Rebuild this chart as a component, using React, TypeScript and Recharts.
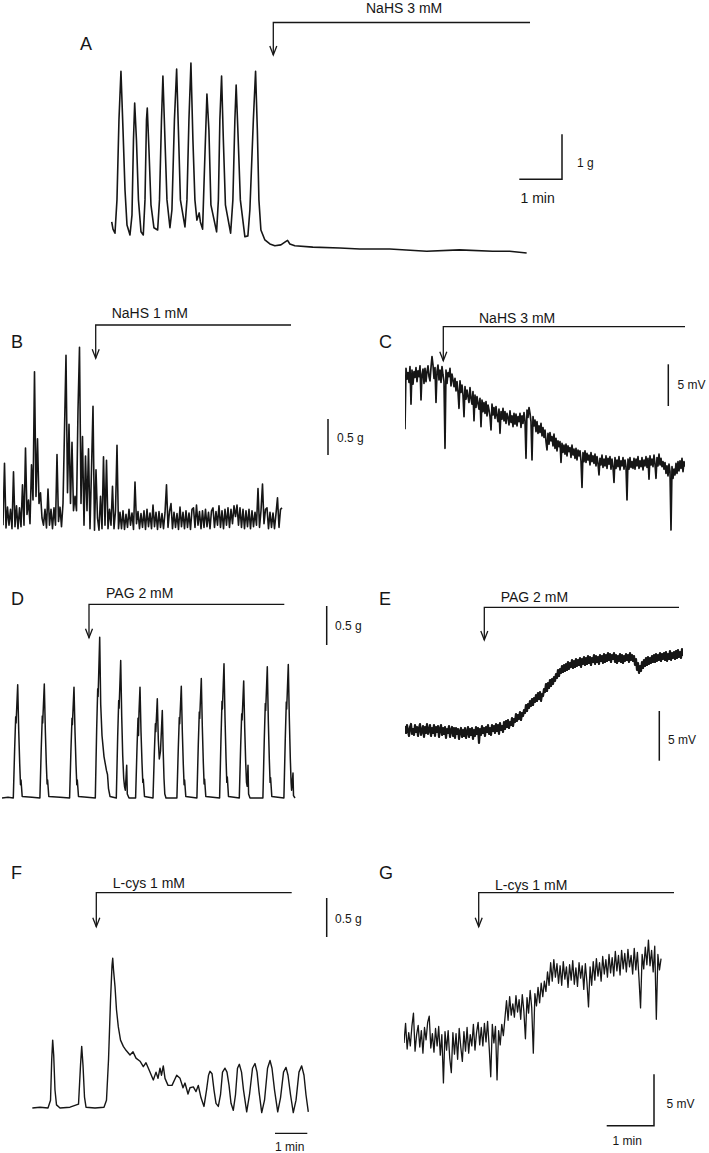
import React from "react"
import { LineChart, Line, XAxis, YAxis } from "recharts"

// A: spontaneous contractions, NaHS 3 mM — [seconds, g]
const panelA: [number, number][] = [
  [1, 0.69], [2.8, 0.53], [5.6, 0.44], [8.4, 1.18], [11.2, 2.96], [14, 4.04], [16.9, 2.73], [19.7, 1.4], [22.5, 0.62],
  [26.7, 0.4], [29.5, 0.84], [31.6, 2.51], [33.3, 3.33], [35.8, 2.51], [38.6, 1.18], [42.2, 0.47], [45.4, 0.4],
  [47.8, 1.18], [49.9, 2.96], [51, 3.22], [53.4, 2.29], [56.2, 1.07], [60.4, 0.56], [65.6, 0.51], [68.2, 1.18],
  [71, 2.96], [73, 3.93], [75.9, 2.51], [78.7, 1.18], [82.9, 0.56], [85.7, 0.96], [89.2, 2.96], [92.3, 4.09],
  [94.8, 2.73], [97.6, 1.18], [104, 0.58], [106.8, 1.18], [109.6, 2.96], [112.4, 4.22], [115.2, 2.51], [118, 1.18],
  [120.8, 0.73], [124, 0.89], [125.7, 0.69], [128.8, 0.53], [131.4, 1.84], [134.9, 3.53], [137.7, 2.73], [140.5, 1.07],
  [148.5, 0.47], [151, 1.18], [153.1, 2.96], [155.5, 3.93], [158, 2.51], [160.9, 1.07], [168.2, 0.44], [171.4, 1.18],
  [174.2, 2.96], [176, 3.73], [178.4, 2.73], [181.9, 1.18], [188.3, 0.36], [192.5, 0.38], [195.3, 0.96], [200.2, 2.96],
  [203.3, 4.04], [205.8, 2.73], [208, 1.18], [210.8, 0.51], [216.4, 0.29], [223.4, 0.2], [230.4, 0.16], [238.9, 0.18],
  [244.5, 0.24], [248.3, 0.28], [251.5, 0.2], [258.5, 0.16], [283.8, 0.13], [321.7, 0.11], [349.8, 0.09], [392, 0.09],
  [444, 0.04], [490, 0.07], [536.7, 0.04], [560.6, 0.04], [584.5, 0],
]

// B: NaHS 1 mM, tension (g), one sample every 1.5 s
const panelB: number[] = [
  -0.1, 0.76, -0.14, 0.15, -0.1, 0.12, -0.15, 0.64, -0.12, 0.17, -0.15, 0.14, -0.12, 0.46, -0.1, 0.97, 0.05, 0.25, -0.08,
  0.74, 0.25, 2.03, 0.3, 1.1, 0.2, 0.35,
  0.0, -0.1, 0.12, -0.14, 0.4, -0.1, 0.12, -0.15, 0.14, -0.1, 0.88, -0.05, 0.15, -0.12,
  0.2, 1.22, 2.26, 0.35, 1.3, 0.2, 1.05, 0.1, 0.3,
  0.1, 1.5, 2.37, 0.2, 1.13, -0.1, 0.86, 0.1, 0.96, -0.15, 0.67, 1.55, -0.17, 0.67, 0.0, -0.17, 0.3, -0.15,
  0.85, -0.1, 0.8, -0.15, 0.12, -0.1, 0.44, -0.15, 0.1, 1.01, -0.15,
  0.08, -0.15, 0.1, -0.16, 0.05, -0.13, 0.12, -0.1, 0.07, -0.16,
  0.5, -0.08, 0.09, -0.15, 0.06, -0.13, 0.1, -0.16, 0.12, -0.12,
  0.07, -0.15, 0.18, -0.12, 0.08, -0.16, 0.09, -0.13, 0.06, -0.15,
  0.07, 0.46, -0.13, 0.09, 0.2, -0.15, 0.08, -0.13, 0.06, -0.16,
  0.15, -0.12, 0.08, -0.15, 0.1, -0.13, 0.07, -0.16, 0.12, 0.14,
  -0.13, 0.18, -0.1, 0.09, -0.15, 0.1, -0.13, 0.12, -0.12, 0.08,
  -0.15, 0.1, 0.14, -0.13, 0.09, -0.1, 0.17, -0.13, 0.1, -0.15,
  0.12, -0.1, 0.14, -0.13, 0.12, -0.08, 0.17, 0.02, 0.18, -0.1,
  0.14, -0.13, 0.12, -0.15, 0.1, -0.12, 0.12, -0.15, 0.1, -0.12,
  0.08, -0.1, 0.41, -0.13, 0.1, 0.47, -0.08, 0.12, 0.14, -0.15,
  0.08, -0.13, 0.07, -0.15, 0.06, 0.28, -0.13, 0.12, 0.14,
]

// C: NaHS 3 mM, membrane potential (mV), one sample per second
const panelC: number[] = [
  -6.5, 0.8, -0.5, 0.3, -0.9, 1.0, -3.5, 0.6, -1.1, 0.4,
  -0.3, 0.9, -0.8, 0.5, -0.2, 1.1, -3.0, 0.1, 0.7, -1.0,
  0.8, -0.8, 0.4, 1.1, -0.2, -0.7, 0.9, 2.2, 1.2, -0.4,
  0.9, -3.3, 0.4, 1.2, -0.6, 0.6, -0.9, 1.0, 0.0, -0.8,
  -8.8, 0.6, -1.0, 0.3, -0.2, 0.8, -1.3, 0.1, -0.6, -1.4,
  -0.4, -1.9, -0.8, -2.0, -4.0, -0.7, -2.1, -1.2, -2.4, -5.0,
  -1.4, -2.9, -1.8, -2.6, -3.3, -1.5, -2.8, -3.5, -2.0, -5.5,
  -2.4, -3.9, -2.6, -3.4, -4.1, -2.8, -6.2, -3.0, -4.4, -3.3,
  -4.6, -3.2, -4.9, -3.6, -4.2, -5.0, -6.6, -3.5, -4.8, -3.9,
  -5.2, -3.8, -4.9, -5.6, -4.1, -7.0, -4.4, -5.3, -4.0, -5.5,
  -4.4, -5.8, -4.6, -5.1, -6.0, -4.3, -5.7, -4.9, -6.2, -4.6,
  -5.9, -4.7, -6.1, -5.0, -5.6, -4.6, -6.3, -4.9, -5.8, -4.5,
  -5.5, -10.0, -4.2, -5.1, -3.9, -4.6, -5.6, -10.2, -5.0, -6.1,
  -5.4, -6.8, -5.6, -7.0, -6.1, -6.9, -5.8, -7.3, -6.3, -7.5,
  -6.6, -8.0, -9.0, -7.0, -8.3, -6.9, -7.9, -7.4, -8.5, -7.1,
  -8.8, -7.6, -9.1, -7.9, -8.6, -8.0, -10.5, -8.2, -9.3, -8.4,
  -9.5, -8.3, -9.7, -8.5, -9.2, -8.7, -9.9, -8.4, -9.6, -8.9,
  -10.0, -8.8, -10.2, -9.0, -9.7, -9.1, -10.3, -13.5, -9.3, -10.4,
  -9.1, -10.5, -9.4, -10.2, -9.6, -10.8, -9.3, -10.4, -9.7, -10.6,
  -9.5, -10.9, -9.8, -10.6, -12.0, -10.0, -10.8, -9.6, -11.1, -10.1,
  -10.9, -9.7, -11.2, -10.0, -10.7, -9.8, -11.3, -10.1, -11.0, -12.9,
  -9.9, -11.2, -10.2, -11.0, -9.8, -11.4, -10.3, -10.9, -9.9, -11.3,
  -10.2, -11.0, -15.0, -10.1, -11.3, -9.9, -11.1, -10.4, -11.2, -10.0,
  -11.3, -10.1, -10.9, -9.8, -11.2, -10.3, -11.0, -9.9, -11.4, -10.2,
  -10.9, -9.8, -11.1, -10.0, -12.5, -9.7, -10.8, -10.1, -11.0, -9.6,
  -10.7, -12.4, -9.9, -10.9, -9.5, -10.8, -10.0, -11.0, -10.4, -11.3,
  -10.5, -11.8, -10.9, -12.1, -10.7, -11.6, -18.6, -11.0, -12.4, -11.3,
  -12.0, -10.6, -11.8, -10.4, -11.5, -10.3, -11.2, -10.0, -11.6, -10.4, -11.0,
]

// D: PAG 2 mM, tension — [seconds, g]
const panelD: [number, number][] = [
  [0, 0], [6, 0.01], [11.3, 0], [12.7, 0.65], [13.7, 1.04], [14.1, 0.96], [15.7, 1.45], [16.7, 0.87], [17.7, 0.44], [18.5, 0.17], [19, 0.23], [20.2, 0.02], [30, 0.01],
  [37.9, 0], [39.3, 0.66], [40.3, 1.05], [40.7, 0.96], [42.3, 1.46], [43.3, 0.88], [44.3, 0.44], [45.1, 0.18], [45.6, 0.23], [46.8, 0.02], [58, 0.01],
  [67.6, 0], [69, 0.64], [70, 1.02], [70.4, 0.94], [72, 1.42], [73, 0.85], [74, 0.43], [74.8, 0.17], [75.3, 0.23], [76.5, 0.02], [85, 0.01],
  [93.3, 0], [94.7, 0.9], [95.7, 1.4], [96.1, 1.3], [97.7, 2.06], [98.7, 1.2], [100, 0.8], [102, 0.53], [104.5, 0.35], [105.5, 0.3], [106.5, 0.12], [108, 0.02],
  [114.3, 0], [115.7, 0.8], [116.7, 1.25], [117.1, 1.15], [118.7, 1.76], [119.7, 1.05], [120.7, 0.55], [121.7, 0.25], [122.5, 0.15], [123.3, 0.1], [124.7, 0.42], [125.3, 0.05], [127, 0],
  [133.6, 0], [135, 0.64], [136, 1.02], [136.5, 0.8], [137, 1.1], [138, 1.42], [139, 0.85], [140, 0.45], [140.8, 0.2], [141.3, 0.24], [142.5, 0.02],
  [151, 0], [152.4, 0.6], [153.4, 0.95], [153.8, 0.85], [155.3, 1.27], [156.3, 0.75], [157.3, 0.5], [158.5, 0.6], [160.3, 1.12], [161.2, 0.6], [162, 0.25], [162.8, 0.05], [164, 0],
  [174.9, 0], [176.3, 0.64], [177.3, 1.03], [177.7, 0.95], [179.3, 1.43], [180.3, 0.86], [181.3, 0.43], [182.1, 0.17], [182.6, 0.23], [183.8, 0.02],
  [194.9, 0], [196.3, 0.69], [197.3, 1.1], [197.7, 1.02], [199.3, 1.53], [200.3, 0.92], [201.3, 0.46], [202.1, 0.18], [202.6, 0.24], [203.8, 0.02],
  [217.6, 0], [219, 0.77], [220, 1.24], [220.4, 1.14], [222, 1.72], [223, 1.03], [224, 0.52], [224.8, 0.2], [225.3, 0.27], [226.5, 0.02],
  [237.3, 0], [238.7, 0.68], [239.7, 1.08], [240.1, 1.0], [241.7, 1.5], [242.7, 0.9], [243.7, 0.45], [244.5, 0.2], [245.2, 0.15], [246, 0.42], [246.6, 0.05], [248, 0],
  [260.9, 0], [262.3, 0.76], [263.3, 1.21], [263.7, 1.12], [265.3, 1.68], [266.3, 1.0], [267.3, 0.5], [268.1, 0.2], [268.6, 0.26], [269.8, 0.02],
  [281.9, 0], [283.3, 0.77], [284.3, 1.23], [284.7, 1.14], [286.3, 1.71], [287.3, 1.03], [288.3, 0.51], [289.1, 0.2], [289.6, 0.1], [291, 0.32], [291.5, 0.03], [293, 0],
]

// E: PAG 2 mM, membrane potential (mV), one sample per second
const panelE: number[] = [
  0.4, -0.3, 0.5, -0.1, -0.6, 0.3, 0.6, -0.4, 0.1, -0.5,
  0.5, -0.2, 0.3, -0.6, 0.2, 0.6, -0.5, -0.1, 0.4, -0.7,
  0.3, -0.3, 0.6, -0.4, 0.0, 0.5, -0.6, 0.2, -0.3, 0.5,
  -0.6, 0.3, -0.2, 0.4, -0.7, 0.1, 0.5, -0.5, 0.2, -0.4,
  0.3, -0.8, 0.1, -0.3, 0.4, -0.7, 0.0, 0.3, -0.6, 0.2,
  -0.8, 0.2, -0.4, 0.1, -0.9, -0.1, 0.2, -0.7, 0.0, -0.6,
  0.2, -0.8, -0.2, 0.3, -0.7, 0.1, -0.5, 0.2, -0.9, 0.0,
  -0.6, 0.3, -0.4, 0.2, -1.3, 0.1, -0.5, 0.4, -0.3, 0.2,
  -0.6, 0.3, -0.2, 0.5, -0.4, 0.2, -0.5, 0.5, -0.1, 0.4,
  -0.3, 0.6, -0.1, 0.5, -0.4, 0.7, 0.0, 0.4, -0.2, 0.8,
  0.1, 0.9, 0.3, 1.0, 0.2, 0.8, 0.5, 1.2, 0.4, 1.1,
  0.8, 1.6, 0.9, 1.5, 1.1, 1.8, 1.0, 1.7, 1.4, 2.0,
  1.7, 2.5, 1.9, 2.6, 2.2, 2.9, 2.4, 3.1, 2.5, 3.2,
  2.8, 3.5, 2.9, 3.7, 3.1, 3.8, 2.9, 3.6, 3.4, 4.1,
  3.8, 4.6, 3.9, 4.7, 4.2, 5.0, 4.4, 5.1, 4.6, 5.3,
  4.9, 5.6, 5.2, 6.0, 5.4, 6.1, 5.7, 6.4, 5.8, 6.5,
  5.9, 6.6, 6.0, 6.8, 6.1, 6.7, 6.3, 7.0, 6.2, 6.9,
  6.3, 7.1, 6.4, 7.0, 6.5, 7.2, 6.3, 7.1, 6.6, 7.3,
  6.5, 7.2, 6.6, 7.4, 6.7, 7.3, 6.5, 7.2, 6.8, 7.5,
  6.6, 7.4, 6.8, 7.3, 6.6, 7.5, 6.9, 7.4, 6.7, 7.6,
  6.8, 7.5, 6.9, 7.7, 7.0, 7.6, 6.8, 7.5, 7.1, 7.7,
  6.8, 7.5, 6.7, 7.4, 6.9, 7.6, 6.8, 7.5, 6.7, 7.4,
  6.9, 7.6, 7.0, 7.5, 6.8, 7.7, 7.0, 7.5, 6.9, 7.4,
  6.5, 7.1, 6.0, 6.7, 5.7, 6.4, 5.9, 6.8, 6.2, 7.0,
  6.4, 7.2, 6.5, 7.3, 6.6, 7.2, 6.7, 7.4, 6.8, 7.5,
  6.8, 7.6, 6.9, 7.5, 7.0, 7.7, 6.9, 7.6, 7.1, 7.7,
  7.0, 7.8, 6.9, 7.6, 7.1, 7.9, 7.0, 7.7, 7.2, 7.8,
  7.1, 7.9, 7.2, 8.0, 7.3, 7.8, 7.2, 8.1, 7.4,
]

// F: L-cys 1 mM, tension — [seconds, g]
const panelF: [number, number][] = [
  [0.6, 0], [14.9, 0.01], [29.7, 0], [34.4, 0.1], [36.6, 0.62], [38.4, 0.87], [40.3, 0.68], [42.7, 0.23], [45.5, 0.04],
  [52, 0], [70.6, 0.01], [86.4, 0.05], [90.1, 0.55], [92.3, 0.79], [94.7, 0.55], [97.5, 0.14], [100.3, 0.01], [117, 0],
  [133.7, 0.01], [138.3, 0.1], [142.1, 0.62], [145.8, 1.38], [148.6, 1.83], [149.9, 1.92], [151.4, 1.77], [154.1, 1.56],
  [156.9, 1.26], [160.3, 1.04], [164.4, 0.87], [169.6, 0.79], [174.6, 0.74], [182, 0.68], [187.6, 0.72], [193.1, 0.64],
  [200.6, 0.6], [206.7, 0.53], [211.7, 0.58], [217.3, 0.49], [225.3, 0.36], [230.3, 0.46], [234, 0.38], [237.7, 0.51],
  [240.5, 0.42], [243.8, 0.54], [247, 0.38], [252.6, 0.29], [260, 0.29], [268.7, 0.42], [274.9, 0.38], [280.4, 0.26],
  [284.1, 0.32], [289.7, 0.18], [293.4, 0.26], [299.6, 0.27], [304.6, 0.21], [308.8, 0.29], [313.9, 0.13], [319.4, 0.02],
  [324.1, 0.23], [327.8, 0.42], [330.5, 0.47], [334.3, 0.44], [338, 0.23], [341.7, 0.06], [346, 0.02], [350.1, 0.17],
  [353.8, 0.46], [358.4, 0.51], [362.1, 0.46], [365.9, 0.29], [369.6, 0.06], [373.8, -0.03], [377.9, 0.17], [381.6, 0.51],
  [385, 0.56], [389.1, 0.46], [392.8, 0.23], [398.7, -0.05], [403.9, 0.17], [409.5, 0.51], [414.1, 0.57], [417.9, 0.46],
  [421.6, 0.21], [426.6, -0.06], [431.8, 0.1], [437.4, 0.51], [442, 0.61], [445.7, 0.51], [450.4, 0.23], [456.3, -0.05],
  [461.5, 0.13], [467.1, 0.46], [471.7, 0.52], [475.4, 0.42], [480.1, 0.17], [485.2, -0.06], [490.3, 0.1], [495.8, 0.46],
  [500.8, 0.54], [505.1, 0.42], [508.8, 0.17], [513.1, -0.05],
]

// G: L-cys 1 mM, membrane potential (mV), one sample every 2 s
const panelG: number[] = [
  -0.6, 1.3, -1.2, 0.4, -0.9, 1.0, 2.3, -1.4, 0.2, 1.1,
  -1.0, 0.6, -1.6, 0.9, -0.3, 1.4, 2.0, -1.1, 0.3, -1.5,
  0.8, -0.9, 1.0, -1.8, 0.2, -4.5, 0.5, -1.3, 0.6, -2.1,
  -3.5, 0.4, -1.7, 0.3, -2.2, 0.8, -1.0, -2.4, 0.5, -1.4,
  0.9, -1.6, 0.2, -0.9, 1.2, -1.3, 0.4, 1.4, -0.8, 0.9,
  -0.9, 1.3, -0.5, 1.5, -1.0, -3.9, 1.2, -0.6, 1.0, -4.2,
  0.6, -0.8, 1.2, 0.1, 1.8, 3.5, 1.6, 3.9, 2.1, 3.2,
  1.9, 4.0, 2.4, 3.6, 1.7, 4.1, 2.5, -0.2, 3.8, 2.3,
  4.5, 2.8, -1.6, 4.2, 3.0, 4.8, 3.3, 5.2, 3.9, 5.4,
  4.4, 6.3, 5.0, 7.2, 5.4, 7.5, 5.8, 7.1, 5.2, 6.9,
  5.0, 7.3, 5.6, 6.8, 4.8, 7.0, 5.5, 7.4, 5.1, 6.7,
  4.9, 7.2, 5.7, 6.9, 4.6, 7.1, 5.3, 2.9, 6.8, 5.0,
  7.3, 5.5, 7.6, 5.9, 7.2, 5.4, 7.8, 6.1, 7.5, 5.8,
  8.0, 6.2, 7.7, 5.9, 8.3, 6.4, 7.9, 6.0, 8.4, 6.6,
  8.1, 6.3, 8.5, 6.8, 7.9, 6.1, 8.6, 6.5, 8.2, 5.7,
  2.8, 8.0, 6.6, 8.7, 7.0, 9.4, 6.9, 8.4, 6.3, 8.8,
  1.7, 8.0, 6.5, 7.6,
]

const INK = "#161616"
const FONT = "'Liberation Sans', Arial, sans-serif"

const fromPairs = (pairs: [number, number][]) => pairs.map(([t, v]) => ({ t, v }))
const fromSamples = (values: number[], step: number) => values.map((v, i) => ({ t: i * step, v }))

interface TraceProps {
  data: { t: number; v: number }[]
  left: number
  top: number
  width: number
  height: number
  xDomain: [number, number]
  yDomain: [number, number]
  strokeWidth?: number
}

function Trace({ data, left, top, width, height, xDomain, yDomain, strokeWidth = 1.3 }: TraceProps) {
  return (
    <div style={{ position: "absolute", left, top }}>
      <LineChart width={width} height={height} data={data} margin={{ top: 0, right: 0, bottom: 0, left: 0 }}>
        <XAxis type="number" dataKey="t" domain={xDomain} hide allowDataOverflow />
        <YAxis type="number" domain={yDomain} hide allowDataOverflow />
        <Line
          type="linear"
          dataKey="v"
          stroke={INK}
          strokeWidth={strokeWidth}
          strokeLinejoin="round"
          dot={false}
          isAnimationActive={false}
        />
      </LineChart>
    </div>
  )
}

// drug application marker: label, horizontal bar and down arrow
function Bracket({ x, right, y, tip, label, lx, ly }: {
  x: number; right: number; y: number; tip: number; label: string; lx: number; ly: number
}) {
  return (
    <g>
      <text x={lx} y={ly} fontSize={14} fontFamily={FONT} fill={INK}>{label}</text>
      <polyline points={`${right},${y} ${x},${y} ${x},${tip}`} fill="none" stroke={INK} strokeWidth={1.3} />
      <polyline points={`${x - 3.5},${tip - 9} ${x},${tip} ${x + 3.5},${tip - 9}`} fill="none" stroke={INK} strokeWidth={1.3} />
    </g>
  )
}

function Letter({ x, y, children }: { x: number; y: number; children: string }) {
  return <text x={x} y={y} fontSize={18} fontFamily={FONT} fill={INK}>{children}</text>
}

function Label({ x, y, size = 12, children }: { x: number; y: number; size?: number; children: string }) {
  return <text x={x} y={y} fontSize={size} fontFamily={FONT} fill={INK}>{children}</text>
}

export default function App() {
  return (
    <div style={{ position: "absolute", left: 0, top: 0, width: 709, height: 1153, background: "#fff" }}>
      <Trace data={fromPairs(panelA)} left={111} top={50} width={416} height={210} xDomain={[0, 585]} yDomain={[-0.156, 4.511]} strokeWidth={1.6} />
      <Trace data={fromSamples(panelB, 1.5)} left={2.5} top={330} width={280} height={210} xDomain={[0, 280]} yDomain={[-0.306, 2.611]} strokeWidth={1.6} />
      <Trace data={fromSamples(panelC, 1)} left={404.5} top={340} width={280} height={200} xDomain={[0, 280]} yDomain={[-19.8, 4.2]} strokeWidth={1.7} />
      <Trace data={fromPairs(panelD)} left={2} top={620} width={294} height={185} xDomain={[0, 294]} yDomain={[-0.09, 2.28]} strokeWidth={1.5} />
      <Trace data={fromSamples(panelE, 1)} left={404.5} top={640} width={278} height={120} xDomain={[0, 278]} yDomain={[-3, 9]} strokeWidth={2.2} />
      <Trace data={fromPairs(panelF)} left={32} top={940} width={277} height={180} xDomain={[0, 514.4]} yDomain={[-0.154, 2.154]} strokeWidth={1.4} />
      <Trace data={fromSamples(panelG, 2)} left={404.3} top={930} width={258} height={165} xDomain={[0, 327.2]} yDomain={[-5.67, 10.38]} strokeWidth={1.3} />

      <svg width={709} height={1153} style={{ position: "absolute", left: 0, top: 0, pointerEvents: "none" }}>
        <Letter x={80} y={50}>A</Letter>
        <Letter x={11} y={348}>B</Letter>
        <Letter x={379} y={348}>C</Letter>
        <Letter x={11} y={605}>D</Letter>
        <Letter x={379} y={605}>E</Letter>
        <Letter x={11} y={879}>F</Letter>
        <Letter x={379} y={879}>G</Letter>

        <Bracket x={273.3} right={530} y={22.5} tip={55} label="NaHS 3 mM" lx={366} ly={12.7} />
        <Bracket x={95.7} right={291} y={325} tip={358.3} label="NaHS 1 mM" lx={111.7} ly={317.7} />
        <Bracket x={443.3} right={685} y={326.7} tip={360.7} label="NaHS 3 mM" lx={479} ly={323} />
        <Bracket x={89} right={284.3} y={604.3} tip={637.7} label="PAG 2 mM" lx={106} ly={598} />
        <Bracket x={484.3} right={679} y={607.3} tip={640} label="PAG 2 mM" lx={500.7} ly={601.7} />
        <Bracket x={96.3} right={291.7} y={892.7} tip={926.7} label="L-cys 1 mM" lx={112.7} ly={888.3} />
        <Bracket x={478.7} right={674} y={892.7} tip={926.7} label="L-cys 1 mM" lx={495} ly={890} />

        {/* scale bars */}
        <polyline points="519.3,179.3 562,179.3 562,134.3" fill="none" stroke={INK} strokeWidth={1.5} />
        <Label x={577} y={166.5} size={12}>1 g</Label>
        <Label x={520.5} y={203} size={14}>1 min</Label>

        <line x1={328} y1={419} x2={328} y2={455} stroke={INK} strokeWidth={1.5} />
        <Label x={337} y={442}>0.5 g</Label>

        <line x1={668.3} y1={364.3} x2={668.3} y2={406} stroke={INK} strokeWidth={1.5} />
        <Label x={677.5} y={389}>5 mV</Label>

        <line x1={326.7} y1={606} x2={326.7} y2={645} stroke={INK} strokeWidth={1.5} />
        <Label x={335} y={630}>0.5 g</Label>

        <line x1={659.3} y1={711} x2={659.3} y2={760.7} stroke={INK} strokeWidth={1.5} />
        <Label x={668} y={743.5}>5 mV</Label>

        <line x1={326.7} y1={898} x2={326.7} y2={937} stroke={INK} strokeWidth={1.5} />
        <Label x={335} y={923}>0.5 g</Label>
        <line x1={275} y1={1133.3} x2={307.3} y2={1133.3} stroke={INK} strokeWidth={1.2} />
        <Label x={275} y={1151}>1 min</Label>

        <polyline points="606.7,1125.7 654,1125.7 654,1074.3" fill="none" stroke={INK} strokeWidth={1.5} />
        <Label x={666.5} y={1107.5}>5 mV</Label>
        <Label x={612.5} y={1145}>1 min</Label>
      </svg>
    </div>
  )
}
